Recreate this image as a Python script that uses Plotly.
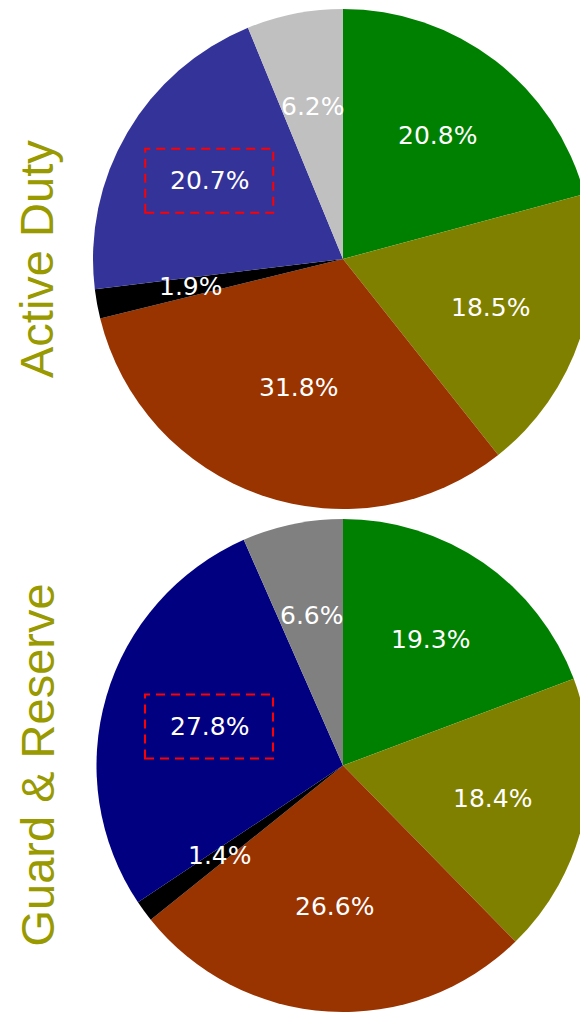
import math
import plotly.graph_objects as go

# ---- data ----
categories = ["Cat A", "Cat B", "Cat C", "Cat D", "Cat E", "Cat F"]
active_duty = [20.8, 18.5, 31.8, 1.9, 20.7, 6.2]
guard_reserve = [19.3, 18.4, 26.6, 1.4, 27.8, 6.6]
titles = ["Active Duty", "Guard & Reserve"]
highlight_index = 4

colors_active = ["#008000", "#808000", "#993300", "#000000", "#333399", "#C0C0C0"]
colors_guard = ["#008000", "#808000", "#993300", "#000000", "#000080", "#808080"]

# ---- geometry (pixels) ----
W, H = 593, 1012
pies = [
    dict(values=active_duty, colors=colors_active, x0=93, x1=593, y0=9, y1=509, title=titles[0]),
    dict(values=guard_reserve, colors=colors_guard, x0=96, x1=590, y0=519, y1=1012, title=titles[1]),
]

fig = go.Figure()
annotations = []
shapes = []

for p in pies:
    fig.add_trace(go.Pie(
        labels=categories,
        values=p["values"],
        sort=False,
        direction="clockwise",
        rotation=0,
        marker=dict(colors=p["colors"], line=dict(width=0)),
        textinfo="none",
        hoverinfo="label+percent",
        showlegend=False,
        domain=dict(x=[p["x0"] / W, p["x1"] / W], y=[1 - p["y1"] / H, 1 - p["y0"] / H]),
    ))
    cx = (p["x0"] + p["x1"]) / 2
    cy = (p["y0"] + p["y1"]) / 2
    r = min(p["x1"] - p["x0"], p["y1"] - p["y0"]) / 2
    total = sum(p["values"])
    cum = 0.0
    for i, v in enumerate(p["values"]):
        frac = v / total
        mid = (cum + frac / 2) * 2 * math.pi
        half = frac * math.pi
        rf = min(0.62, 1 / (1 + math.sin(min(half, math.pi / 2))))
        lx = cx + rf * r * math.sin(mid)
        ly = cy - rf * r * math.cos(mid)
        cum += frac
        annotations.append(dict(
            x=lx / W, y=1 - ly / H, xref="paper", yref="paper",
            text=f"{v:.1f}%", showarrow=False,
            font=dict(family="DejaVu Sans", size=25, color="white"),
            xanchor="center", yanchor="middle",
        ))
        if i == highlight_index:
            bw, bh = 128, 64
            shapes.append(dict(
                type="rect", xref="paper", yref="paper",
                x0=(lx - bw / 2) / W, x1=(lx + bw / 2) / W,
                y0=1 - (ly + bh / 2) / H, y1=1 - (ly - bh / 2) / H,
                line=dict(color="#FF0000", width=2, dash="9px,6px"),
            ))
    annotations.append(dict(
        x=37 / W, y=1 - cy / H, xref="paper", yref="paper",
        text=p["title"], textangle=-90, showarrow=False,
        font=dict(family="Liberation Sans, Arial", size=47, color="#999900"),
        xanchor="center", yanchor="middle",
    ))

fig.update_layout(
    width=W, height=H,
    margin=dict(l=0, r=0, t=0, b=0),
    paper_bgcolor="white", plot_bgcolor="white",
    annotations=annotations, shapes=shapes,
    showlegend=False,
)

fig.write_html(
    "out.html",
    config={"displayModeBar": False},
    post_script="document.body.style.margin='0';document.body.style.overflow='hidden';document.documentElement.style.overflow='hidden';",
)
